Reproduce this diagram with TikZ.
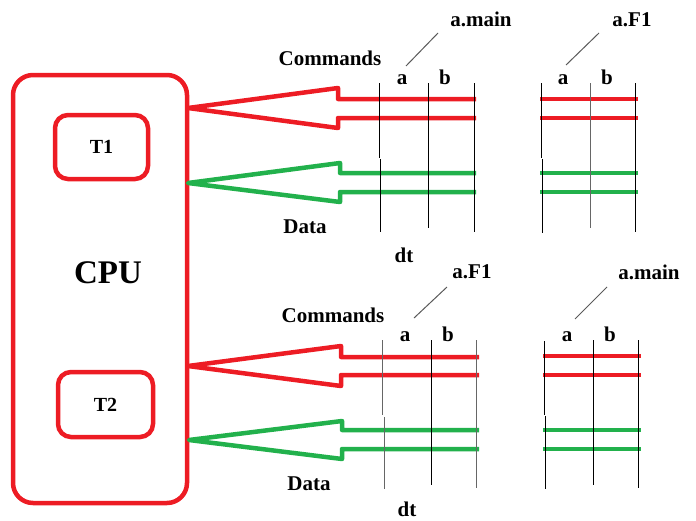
\documentclass[tikz,border=0pt]{standalone}
\usepackage{fontspec}
\setmainfont{Liberation Serif}
\definecolor{pred}{RGB}{237,28,36}
\definecolor{pgreen}{RGB}{34,177,76}
\tikzset{
  box/.style={draw=pred, line width=4.5pt, rounded corners=13pt, inner sep=0pt},
  lbl/.style={font=\bfseries\fontsize{21}{24}\selectfont, anchor=base, inner sep=0pt},
  tname/.style={font=\bfseries\fontsize{20}{24}\selectfont},
  cmd/.style={draw=pred, line width=4.5pt, line join=round},
  dat/.style={draw=pgreen, line width=4.5pt, line join=round},
  colline/.style={draw=black, line width=1.5pt},
  grayline/.style={draw=black!60, line width=1.6pt},
  leader/.style={draw=black!65, line width=1pt},
}
\begin{document}
\begin{tikzpicture}[x=1pt,y=-1pt]
\useasboundingbox (0,0) rectangle (696,520);

% processor with its two threads
\node[box, rounded corners=20pt, minimum width=174pt, minimum height=428pt] (cpu) at (100,289) {};
\node[font=\bfseries\fontsize{33}{36}\selectfont, anchor=base, inner sep=0pt] (cpulbl) at (108,283) {CPU};
\node[box, tname, minimum width=93pt, minimum height=64pt] (t1) at (101.5,147) {T1};
\node[box, tname, minimum width=95pt, minimum height=65pt] (t2) at (105.5,404.5) {T2};

% arrow tips on the processor edge
\coordinate (tipc1) at (188,108);
\coordinate (tipd1) at (188,183);
\coordinate (tipc2) at (188,366);
\coordinate (tipd2) at (189,440);

% hollow arrows: commands (red) and data (green), thread 1
\draw[cmd] (476,99) -- (338,99) -- (338,88) -- (tipc1) -- (338,128) -- (338,118) -- (476,118);
\draw[dat] (476,173) -- (340,173) -- (340,163) -- (tipd1) -- (340,202) -- (340,192) -- (476,192);
% thread 2
\draw[cmd] (479,357) -- (341,357) -- (341,346) -- (tipc2) -- (341,386) -- (341,375) -- (479,375);
\draw[dat] (479,430) -- (342,430) -- (342,421) -- (tipd2) -- (342,459) -- (342,449) -- (479,449);

% column lines, upper left group
\draw[colline] (379.5,83) -- (379.5,158);
\draw[colline] (380.5,159) -- (380.5,232);
\draw[colline] (428.5,83) -- (428.5,228);
\draw[colline] (474.5,83) -- (474.5,232);
% upper right group
\draw[cmd] (540,99) -- (638,99);
\draw[cmd] (540,118) -- (638,118);
\draw[dat] (540,173) -- (638,173);
\draw[dat] (540,192) -- (638,192);
\draw[colline] (541.5,83) -- (541.5,158);
\draw[colline] (542.5,159) -- (542.5,233);
\draw[grayline] (590.5,83) -- (590.5,228);
\draw[colline] (635.5,83) -- (635.5,232);

% column lines, lower left group
\draw[grayline] (382.5,340) -- (382.5,415);
\draw[grayline] (384.5,417) -- (384.5,489);
\draw[colline] (431.5,340) -- (431.5,485);
\draw[grayline] (476.5,340) -- (476.5,488);
% lower right group
\draw[cmd] (543,356) -- (641,356);
\draw[cmd] (543,375) -- (641,375);
\draw[dat] (543,430) -- (641,430);
\draw[dat] (543,449) -- (641,449);
\draw[colline] (544.5,341) -- (544.5,415);
\draw[colline] (545.5,416) -- (545.5,489);
\draw[colline] (593.5,340) -- (593.5,485);
\draw[colline] (638.5,340) -- (638.5,488);

% labels, upper half
\node[lbl] (cmdA) at (330,65) {Commands};
\node[lbl] (datA) at (305,233) {Data};
\node[lbl] (dtA) at (404,262) {dt};
\node[lbl] (mainA) at (481,26) {a.main};
\node[lbl] (f1A) at (632,26) {a.F1};
\node[lbl] (aA) at (402,84) {a};
\node[lbl] (bA) at (445,84) {b};
\node[lbl] (aB) at (563,84) {a};
\node[lbl] (bB) at (607,84) {b};
\draw[leader] (438,33) -- (406,66);
\draw[leader] (599,33) -- (566,65);

% labels, lower half
\node[lbl] (cmdC) at (333,322) {Commands};
\node[lbl] (datC) at (309,490) {Data};
\node[lbl] (dtC) at (407,516) {dt};
\node[lbl] (f1C) at (472,278) {a.F1};
\node[lbl] (mainC) at (649,279) {a.main};
\node[lbl] (aC) at (405,341) {a};
\node[lbl] (bC) at (448,341) {b};
\node[lbl] (aD) at (567,341) {a};
\node[lbl] (bD) at (610,341) {b};
\draw[leader] (447,287) -- (414,318);
\draw[leader] (607,287) -- (575,319);
\end{tikzpicture}
\end{document}
